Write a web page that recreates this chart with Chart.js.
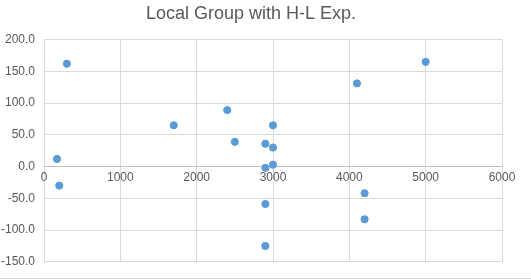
<!DOCTYPE html>
<html>
<head>
<meta charset="utf-8">
<script src="https://cdn.jsdelivr.net/npm/chart.js@4"></script>
<style>
  body { margin: 0; background: #fff; }
  #wrap { width: 531px; height: 278px; border-bottom: 1px solid #d9d9d9; }
</style>
</head>
<body>
<div id="wrap"><canvas id="grafico" width="531" height="278"></canvas></div>
<script>
// dati
var distanze = [300, 1700, 2400, 3000, 4100, 5000, 2500, 2900, 3000, 170, 2900, 3000, 200, 4200, 2900, 4200, 2900];
var velocita = [162, 65, 89, 65, 131, 165, 39, 36, 30, 12, -2, 3, -30, -42, -59, -83, -125];
var xTicks = [0, 1000, 2000, 3000, 4000, 5000, 6000];
var yTicks = [-150, -100, -50, 0, 50, 100, 150, 200];

var punti = distanze.map(function(d, i){ return {x: d, y: velocita[i]}; });
var grigio = '#595959';
var griglia = '#d9d9d9';

var ctx = document.getElementById('grafico');
var chart = new Chart(ctx, {
  type: 'scatter',
  data: {
    datasets: [{
      label: 'Local Group',
      data: punti,
      backgroundColor: '#5b9bd5',
      borderColor: '#5b9bd5',
      pointRadius: 3.6,
      pointHoverRadius: 3.6
    }]
  },
  options: {
    responsive: false,
    animation: false,
    layout: { padding: { left: 0, right: 29, top: 0, bottom: 10 } },
    plugins: {
      legend: { display: false },
      tooltip: { enabled: false },
      title: {
        display: true,
        text: 'Local Group with H-L Exp.',
        color: grigio,
        font: { family: 'Liberation Sans', size: 18, weight: 'normal' },
        padding: { top: 3, bottom: 15 }
      }
    },
    scales: {
      x: {
        type: 'linear',
        position: { y: 0 },
        min: xTicks[0],
        max: xTicks[xTicks.length - 1],
        afterBuildTicks: function(s){ s.ticks = xTicks.map(function(v){ return {value: v}; }); },
        ticks: {
          color: grigio,
          font: { family: 'Liberation Sans', size: 12 },
          padding: 4,
          maxRotation: 0,
          callback: function(v){ return String(v); }
        },
        grid: { color: griglia, drawTicks: false },
        border: { color: '#bfbfbf' }
      },
      y: {
        min: yTicks[0],
        max: yTicks[yTicks.length - 1],
        afterBuildTicks: function(s){ s.ticks = yTicks.map(function(v){ return {value: v}; }); },
        afterFit: function(s){ s.width = 44; },
        ticks: {
          color: grigio,
          font: { family: 'Liberation Sans', size: 12 },
          padding: 9,
          callback: function(v){ return v.toFixed(1); }
        },
        grid: { color: griglia, drawTicks: false },
        border: { display: false }
      }
    }
  }
});
</script>
</body>
</html>
